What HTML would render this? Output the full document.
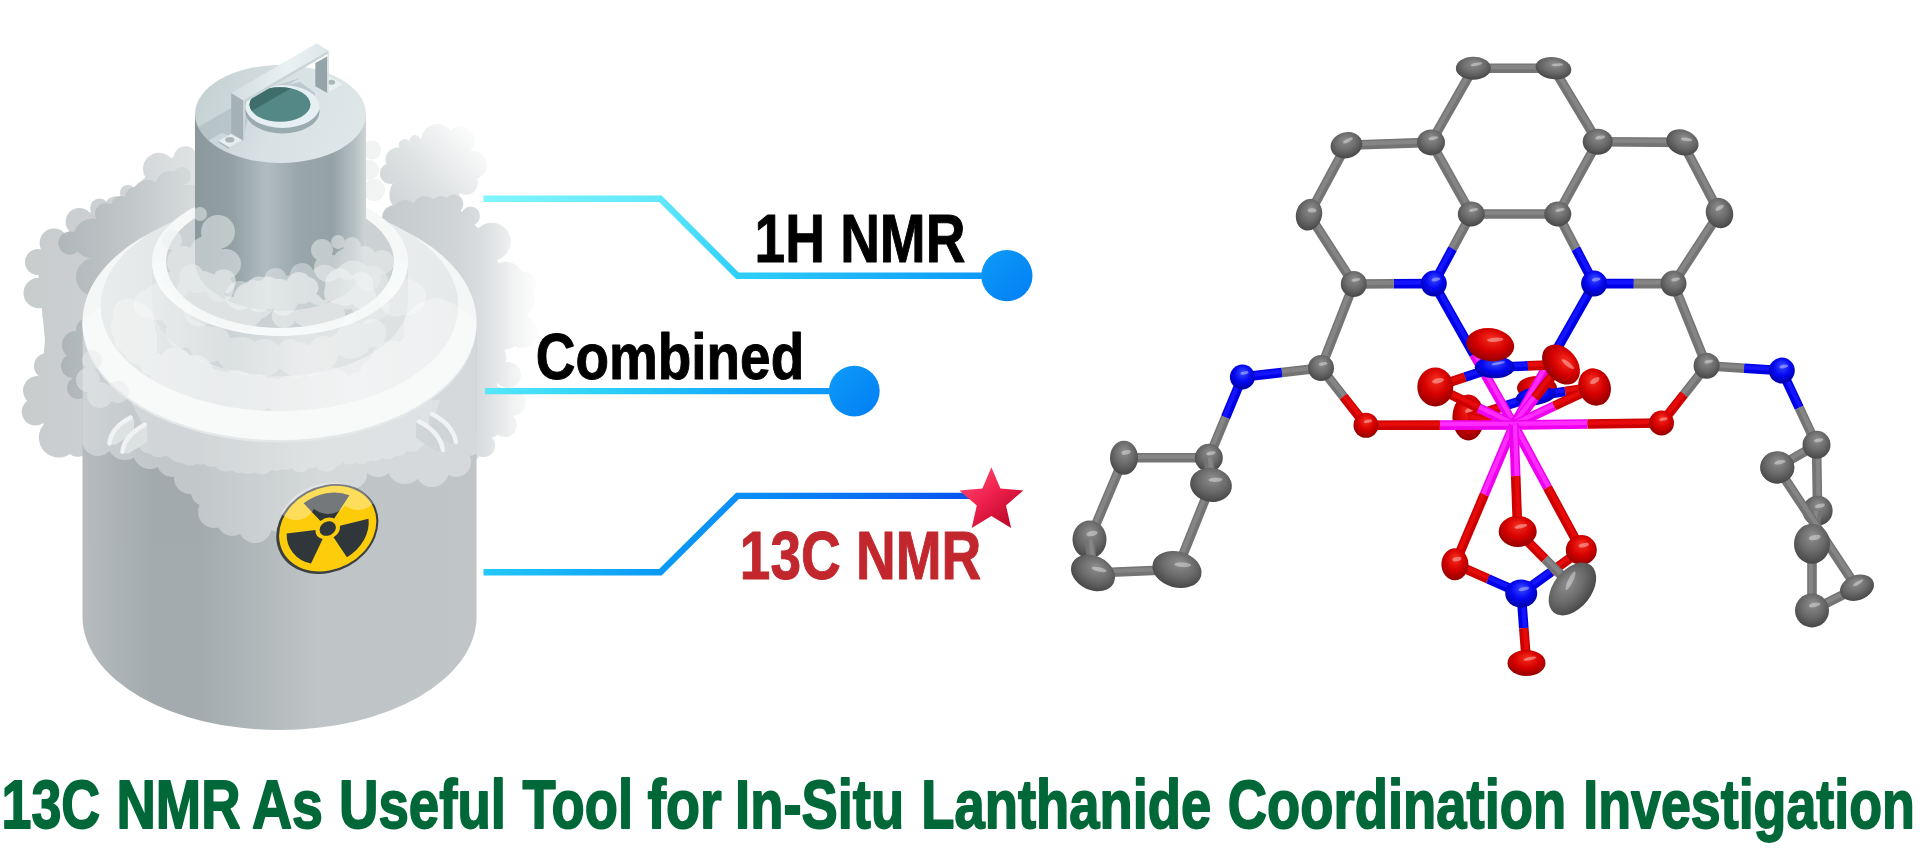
<!DOCTYPE html>
<html lang="en"><head><meta charset="utf-8"><title>13C NMR As Useful Tool for In-Situ Lanthanide Coordination Investigation</title>
<style>html,body{margin:0;padding:0;background:#fff;overflow:hidden}svg{display:block}</style></head>
<body><svg width="1920" height="850" viewBox="0 0 1920 850">
<defs>
<linearGradient id="gBody" x1="82" x2="476" y1="0" y2="0" gradientUnits="userSpaceOnUse">
 <stop offset="0" stop-color="#b6bcbf"/><stop offset="0.08" stop-color="#adb4b7"/><stop offset="0.18" stop-color="#a3abae"/>
 <stop offset="0.3" stop-color="#a3abae"/><stop offset="0.45" stop-color="#b1b8ba"/><stop offset="0.6" stop-color="#bfc5c7"/><stop offset="1" stop-color="#c0c6c8"/>
</linearGradient>
<linearGradient id="gTop" x1="195" x2="366" y1="0" y2="0" gradientUnits="userSpaceOnUse">
 <stop offset="0" stop-color="#8b999d"/><stop offset="0.22" stop-color="#93a1a5"/><stop offset="0.42" stop-color="#b1bcbf"/>
 <stop offset="0.6" stop-color="#99a7ab"/><stop offset="0.8" stop-color="#94a2a6"/><stop offset="0.93" stop-color="#b5bfc2"/><stop offset="1" stop-color="#cfd5d7"/>
</linearGradient>
<linearGradient id="gLid" x1="195" x2="366" y1="80" y2="150" gradientUnits="userSpaceOnUse">
 <stop offset="0" stop-color="#c3cfd2"/><stop offset="0.5" stop-color="#d8e1e3"/><stop offset="1" stop-color="#dfe7e9"/>
</linearGradient>
<linearGradient id="gMid" x1="152" x2="408" y1="0" y2="0" gradientUnits="userSpaceOnUse">
 <stop offset="0" stop-color="#dfe3e4"/><stop offset="0.3" stop-color="#cdd3d5"/><stop offset="0.6" stop-color="#e2e5e6"/><stop offset="1" stop-color="#dde1e2"/>
</linearGradient>
<linearGradient id="gFlat" x1="100" x2="460" y1="0" y2="0" gradientUnits="userSpaceOnUse">
 <stop offset="0" stop-color="#e9ecec"/><stop offset="0.35" stop-color="#dfe3e4"/><stop offset="0.7" stop-color="#eceeef"/><stop offset="1" stop-color="#e6e9ea"/>
</linearGradient>
<linearGradient id="gCloudL" x1="20" x2="250" y1="0" y2="0" gradientUnits="userSpaceOnUse">
 <stop offset="0" stop-color="#c8cccd"/><stop offset="0.35" stop-color="#ccd0d2"/><stop offset="0.7" stop-color="#dde0e1"/><stop offset="1" stop-color="#eceeee"/>
</linearGradient>
<linearGradient id="gCloudL2" x1="55" x2="210" y1="0" y2="0" gradientUnits="userSpaceOnUse">
 <stop offset="0" stop-color="#a9b1b4"/><stop offset="0.5" stop-color="#bfc5c7"/><stop offset="1" stop-color="#dadedf"/>
</linearGradient>
<linearGradient id="gCloudB" x1="388" x2="478" y1="212" y2="128" gradientUnits="userSpaceOnUse">
 <stop offset="0" stop-color="#cdd2d4"/><stop offset="0.45" stop-color="#e0e3e4"/><stop offset="1" stop-color="#ffffff"/>
</linearGradient>
<linearGradient id="gCloudC" x1="385" x2="548" y1="0" y2="0" gradientUnits="userSpaceOnUse">
 <stop offset="0" stop-color="#c5cacc"/><stop offset="0.45" stop-color="#d1d5d7"/><stop offset="0.6" stop-color="#dbdee0"/><stop offset="0.7" stop-color="#e6e8e9"/><stop offset="0.8" stop-color="#f2f3f3"/><stop offset="0.92" stop-color="#fcfcfc"/><stop offset="1" stop-color="#ffffff"/>
</linearGradient>
<linearGradient id="gHandleTop" x1="231" x2="328" y1="0" y2="0" gradientUnits="userSpaceOnUse">
 <stop offset="0" stop-color="#d3dee1"/><stop offset="0.6" stop-color="#e9f1f3"/><stop offset="1" stop-color="#dbe5e8"/>
</linearGradient>
<linearGradient id="gL1" x1="483" x2="1000" y1="0" y2="0" gradientUnits="userSpaceOnUse">
 <stop offset="0" stop-color="#80f5fd"/><stop offset="0.34" stop-color="#62e8fa"/><stop offset="0.49" stop-color="#2fcff8"/><stop offset="1" stop-color="#0a95f8"/>
</linearGradient>
<linearGradient id="gL2" x1="485" x2="850" y1="0" y2="0" gradientUnits="userSpaceOnUse">
 <stop offset="0" stop-color="#58e8fa"/><stop offset="0.3" stop-color="#2fd3f8"/><stop offset="0.7" stop-color="#14a8f7"/><stop offset="1" stop-color="#0a95f8"/>
</linearGradient>
<linearGradient id="gL3" x1="483" x2="985" y1="0" y2="0" gradientUnits="userSpaceOnUse">
 <stop offset="0" stop-color="#25c8f7"/><stop offset="0.35" stop-color="#0a9af6"/><stop offset="0.55" stop-color="#0a8cf6"/><stop offset="1" stop-color="#0a4ef0"/>
</linearGradient>
<linearGradient id="gDot" x1="0.15" x2="0.85" y1="0.15" y2="0.85">
 <stop offset="0" stop-color="#0b97f8"/><stop offset="1" stop-color="#0482f5"/>
</linearGradient>
<linearGradient id="gStar" x1="0.1" x2="0.8" y1="0.1" y2="0.9">
 <stop offset="0" stop-color="#ff4a72"/><stop offset="0.5" stop-color="#ee1f4c"/><stop offset="1" stop-color="#bf0a2a"/>
</linearGradient>
<radialGradient id="gC" cx="0.5" cy="0.42" r="0.66" fx="0.52" fy="0.3"><stop offset="0" stop-color="#8e8e8e"/><stop offset="0.5" stop-color="#6b6b6b"/><stop offset="1" stop-color="#3e3e3e"/></radialGradient><radialGradient id="gN" cx="0.5" cy="0.42" r="0.66" fx="0.52" fy="0.3"><stop offset="0" stop-color="#3a4cff"/><stop offset="0.5" stop-color="#0508f2"/><stop offset="1" stop-color="#000090"/></radialGradient><radialGradient id="gO" cx="0.5" cy="0.42" r="0.66" fx="0.52" fy="0.3"><stop offset="0" stop-color="#f83020"/><stop offset="0.5" stop-color="#d60000"/><stop offset="1" stop-color="#820000"/></radialGradient></defs>
<rect width="1920" height="850" fill="#ffffff"/>
<g id="tank"><g fill="url(#gCloudL)" opacity="1"><path d="M185.0,150.0 L245.0,180.0 L245.0,300.0 L110.0,450.0 L60.0,450.0 L38.0,415.0 L45.0,340.0 L38.0,270.0 L80.0,218.0 L128.0,192.0 L160.0,165.0Z"/><circle cx="185.4" cy="158.0" r="11.7"/><circle cx="159.0" cy="168.7" r="16.0"/><circle cx="128.0" cy="193.0" r="8.0"/><circle cx="116.5" cy="209.0" r="12.7"/><circle cx="99.6" cy="208.0" r="9.5"/><circle cx="79.4" cy="221.7" r="13.8"/><circle cx="54.0" cy="243.0" r="14.4"/><circle cx="38.0" cy="262.0" r="13.0"/><circle cx="38.8" cy="293.0" r="15.3"/><circle cx="56.5" cy="315.0" r="14.0"/><circle cx="60.0" cy="340.0" r="13.0"/><circle cx="47.0" cy="366.0" r="13.0"/><circle cx="37.6" cy="390.6" r="14.6"/><circle cx="35.3" cy="411.8" r="13.6"/><circle cx="58.8" cy="437.6" r="20.0"/><circle cx="77.6" cy="444.7" r="12.0"/><circle cx="95.0" cy="440.0" r="14.0"/></g><g fill="url(#gCloudL2)" opacity="0.8"><path d="M93.0,225.0 L148.0,185.0 L200.0,185.0 L200.0,300.0 L100.0,295.0Z"/><circle cx="93.0" cy="238.6" r="20.0"/><circle cx="70.0" cy="243.0" r="11.6"/><circle cx="148.0" cy="196.0" r="16.0"/><circle cx="95.0" cy="277.0" r="19.0"/><circle cx="131.0" cy="230.0" r="17.0"/><circle cx="114.0" cy="257.7" r="15.0"/><circle cx="170.0" cy="185.0" r="14.0"/><circle cx="160.0" cy="225.0" r="18.0"/><circle cx="125.0" cy="290.0" r="16.0"/><circle cx="106.0" cy="214.0" r="11.0"/><circle cx="121.0" cy="206.0" r="10.0"/><circle cx="135.0" cy="197.0" r="10.0"/><circle cx="182.0" cy="176.0" r="9.0"/></g><g fill="url(#gCloudL2)" opacity="0.9"><path d="M76.0,335.0 L100.0,335.0 L100.0,395.0 L78.0,395.0Z"/><circle cx="76.0" cy="345.0" r="14.0"/><circle cx="73.0" cy="366.0" r="12.0"/><circle cx="78.0" cy="388.0" r="11.0"/><circle cx="88.0" cy="330.0" r="12.0"/></g><g fill="#f1f3f3" opacity="0.9"><circle cx="371.8" cy="150.0" r="9.4"/><circle cx="369.0" cy="170.0" r="10.0"/><circle cx="374.0" cy="190.0" r="11.0"/></g><g fill="url(#gCloudB)" opacity="1"><circle cx="437.6" cy="140.6" r="16.5"/><circle cx="461.0" cy="140.6" r="14.0"/><circle cx="473.0" cy="165.0" r="14.0"/><circle cx="466.0" cy="183.0" r="11.8"/><circle cx="404.7" cy="145.0" r="6.0"/><circle cx="415.0" cy="140.6" r="5.5"/><circle cx="397.6" cy="159.4" r="12.0"/><circle cx="390.6" cy="173.5" r="10.6"/><circle cx="409.4" cy="194.7" r="20.0"/><circle cx="437.6" cy="192.4" r="13.0"/><circle cx="451.8" cy="193.5" r="8.0"/><circle cx="430.0" cy="165.0" r="28.0"/><circle cx="445.0" cy="170.0" r="24.0"/><circle cx="402.0" cy="172.0" r="11.0"/></g><g fill="url(#gCloudC)" opacity="1"><path d="M395.0,210.0 L455.0,205.0 L490.0,240.0 L505.0,280.0 L505.0,330.0 L495.0,400.0 L485.0,445.0 L440.0,455.0 L400.0,300.0Z"/><circle cx="454.0" cy="204.0" r="9.4"/><circle cx="470.6" cy="216.0" r="9.4"/><circle cx="491.8" cy="241.8" r="19.0"/><circle cx="482.4" cy="260.6" r="14.0"/><circle cx="506.0" cy="279.4" r="17.6"/><circle cx="524.7" cy="284.0" r="12.0"/><circle cx="421.0" cy="225.0" r="14.0"/><circle cx="433.0" cy="241.8" r="15.0"/><circle cx="395.0" cy="218.0" r="13.0"/><circle cx="504.0" cy="331.8" r="18.0"/><circle cx="499.0" cy="295.5" r="20.0"/><circle cx="491.0" cy="357.6" r="15.5"/><circle cx="494.0" cy="401.6" r="15.5"/><circle cx="488.7" cy="425.0" r="13.0"/><circle cx="483.5" cy="445.6" r="11.6"/><circle cx="515.0" cy="310.0" r="14.0"/><circle cx="508.0" cy="375.0" r="13.0"/><circle cx="470.0" cy="452.0" r="10.0"/><circle cx="522.0" cy="332.0" r="16.0"/><circle cx="520.0" cy="300.0" r="15.0"/><circle cx="512.0" cy="402.0" r="14.0"/><circle cx="505.0" cy="425.0" r="12.0"/><circle cx="405.0" cy="212.0" r="12.0"/><circle cx="425.0" cy="208.0" r="12.0"/><circle cx="441.0" cy="206.0" r="10.0"/></g><path d="M82.5,322 L82.5,617 A197,113 0 0 0 476.5,617 L476.5,322 Z" fill="url(#gBody)"/><clipPath id="cpBody"><path d="M82.5,322 L82.5,617 A197,113 0 0 0 476.5,617 L476.5,322 Z"/></clipPath><g clip-path="url(#cpBody)"><g fill="#ffffff" opacity="0.34"><path d="M82.5,322.0 L476.5,322.0 L476.5,445.0 L440.0,468.0 L380.0,460.0 L350.0,488.0 L300.0,495.0 L262.0,528.0 L225.0,518.0 L205.0,488.0 L160.0,458.0 L110.0,440.0 L82.5,440.0Z"/><circle cx="98.0" cy="440.0" r="16.0"/><circle cx="125.0" cy="442.0" r="18.0"/><circle cx="150.0" cy="452.0" r="17.0"/><circle cx="172.0" cy="462.0" r="15.0"/><circle cx="190.0" cy="478.0" r="16.0"/><circle cx="205.0" cy="492.0" r="14.0"/><circle cx="214.0" cy="512.0" r="16.0"/><circle cx="232.0" cy="521.0" r="15.0"/><circle cx="255.0" cy="526.0" r="17.0"/><circle cx="278.0" cy="517.0" r="15.0"/><circle cx="292.0" cy="502.0" r="14.0"/><circle cx="312.0" cy="498.0" r="16.0"/><circle cx="338.0" cy="492.0" r="16.0"/><circle cx="352.0" cy="474.0" r="15.0"/><circle cx="378.0" cy="460.0" r="17.0"/><circle cx="405.0" cy="466.0" r="18.0"/><circle cx="432.0" cy="470.0" r="17.0"/><circle cx="456.0" cy="462.0" r="15.0"/><circle cx="468.0" cy="442.0" r="14.0"/></g><g fill="#ffffff" opacity="0.26"><path d="M130.0,400.0 L440.0,400.0 L430.0,430.0 L400.0,445.0 L350.0,456.0 L300.0,462.0 L250.0,462.0 L200.0,455.0 L150.0,440.0Z"/><circle cx="150.3" cy="440.5" r="13.1"/><circle cx="159.1" cy="443.6" r="13.5"/><circle cx="171.6" cy="444.7" r="12.3"/><circle cx="180.5" cy="449.0" r="13.8"/><circle cx="190.1" cy="451.8" r="13.7"/><circle cx="200.5" cy="454.2" r="10.5"/><circle cx="212.5" cy="455.0" r="12.0"/><circle cx="225.9" cy="458.2" r="13.2"/><circle cx="239.2" cy="460.5" r="12.4"/><circle cx="248.5" cy="460.2" r="13.9"/><circle cx="261.6" cy="460.9" r="13.5"/><circle cx="276.0" cy="460.5" r="10.6"/><circle cx="286.5" cy="461.1" r="9.0"/><circle cx="300.1" cy="461.2" r="11.0"/><circle cx="311.2" cy="458.9" r="9.2"/><circle cx="326.5" cy="460.0" r="11.8"/><circle cx="336.0" cy="456.1" r="9.6"/><circle cx="349.3" cy="454.2" r="10.4"/><circle cx="361.3" cy="452.0" r="12.3"/><circle cx="374.8" cy="450.4" r="10.8"/><circle cx="387.7" cy="448.9" r="10.5"/><circle cx="398.3" cy="444.9" r="10.9"/><circle cx="411.1" cy="438.4" r="13.4"/><circle cx="418.1" cy="435.2" r="11.2"/></g></g><ellipse cx="279.5" cy="324.5" rx="197" ry="118" fill="#e4e8e9"/><ellipse cx="279.5" cy="322" rx="197" ry="118" fill="#f5f7f7"/><ellipse cx="279.5" cy="306" rx="179" ry="105.3" fill="url(#gFlat)"/><path d="M152,262 L152,302 A128,74 0 0 0 408,302 L408,262 Z" fill="url(#gMid)"/><ellipse cx="280" cy="262" rx="128" ry="74" fill="#f6f8f8"/><ellipse cx="280" cy="262" rx="114" ry="66" fill="#ccd2d4"/><path d="M195,114 L195,262 A85.5,49 0 0 0 366,262 L366,114 Z" fill="url(#gTop)"/><ellipse cx="280.5" cy="114" rx="85.5" ry="49" fill="url(#gLid)"/><clipPath id="cpLid"><ellipse cx="280.5" cy="114" rx="85.5" ry="49"/></clipPath><g clip-path="url(#cpLid)"><path d="M190,132 L262,90 L300,78 L250,108 L243,141 L222,133 L200,145 Z" fill="#9fb0b4" opacity="0.45"/><path d="M285,86 L315,101 L315,93 L300,82 Z" fill="#9fb0b4" opacity="0.5"/></g><ellipse cx="282.5" cy="111.5" rx="37" ry="22" fill="#9aabb0"/><ellipse cx="282.5" cy="106.5" rx="37" ry="21.5" fill="#e6eff1"/><ellipse cx="280" cy="104.5" rx="30.5" ry="17.2" fill="#548886"/><clipPath id="cpHole"><ellipse cx="280" cy="104.5" rx="30.5" ry="17.2"/></clipPath><path d="M245,115 L300,83 L290,80 L240,95 Z" fill="#3f6d6c" clip-path="url(#cpHole)"/><path d="M328,76 L343,84 L328,92.5 L318,86 Z" fill="#e9f0f2"/><ellipse cx="331.5" cy="82.3" rx="3.6" ry="2.5" fill="#a9b7bb"/><path d="M315.3,63 L327.3,56.2 L327.3,93 L315.3,86.3 Z" fill="#94a4a9"/><path d="M327.3,56 L328.8,51 L328.8,91.5 L327.3,93 Z" fill="#d6e0e3"/><path d="M218.5,141 L231,134 L241.8,140 L229,147.2 Z" fill="#e6eef0"/><path d="M218.5,141 L229,147.2 L229,149 L218.5,142.6 Z" fill="#aab8bc"/><ellipse cx="229.8" cy="139.8" rx="4.6" ry="2.8" fill="#a9b7bb"/><path d="M231.2,93.1 L243.2,100.2 L243.2,140.2 L231.2,133 Z" fill="#a4b2b6"/><path d="M243.2,100.2 L245.2,99 L245.2,139 L243.2,140.2 Z" fill="#cbd6d9"/><path d="M243.2,100.2 L328.3,50.5 L328.3,53.5 L245,102.5 Z" fill="#c9d4d7"/><path d="M231.2,93.1 L316.5,43.5 L328.3,50.5 L243.2,100.2 Z" fill="url(#gHandleTop)"/><g fill="#eef1f1" opacity="0.5"><circle cx="200.0" cy="214.0" r="7.0"/><circle cx="218.0" cy="232.0" r="17.0"/><circle cx="206.0" cy="252.0" r="16.0"/><circle cx="226.0" cy="264.0" r="15.0"/><circle cx="198.0" cy="276.0" r="17.0"/><circle cx="220.0" cy="288.0" r="14.0"/><circle cx="183.0" cy="262.0" r="16.0"/><circle cx="176.0" cy="284.0" r="14.0"/><circle cx="172.0" cy="240.0" r="10.0"/></g><g fill="#eef1f1" opacity="0.5"><circle cx="322.0" cy="250.0" r="11.0"/><circle cx="338.0" cy="242.0" r="7.0"/><circle cx="352.0" cy="246.0" r="9.0"/><circle cx="364.0" cy="258.0" r="12.0"/><circle cx="348.0" cy="264.0" r="16.0"/><circle cx="328.0" cy="268.0" r="14.0"/><circle cx="368.0" cy="278.0" r="13.0"/><circle cx="382.0" cy="262.0" r="12.0"/></g><g fill="#e9eded" opacity="0.62"><circle cx="308.4" cy="309.9" r="17.4"/><circle cx="369.1" cy="302.5" r="18.4"/><circle cx="195.5" cy="292.0" r="18.5"/><circle cx="313.3" cy="315.0" r="11.9"/><circle cx="279.1" cy="294.2" r="15.4"/><circle cx="299.0" cy="284.8" r="12.7"/><circle cx="243.1" cy="314.0" r="17.1"/><circle cx="220.3" cy="306.9" r="12.1"/><circle cx="307.3" cy="287.9" r="11.0"/><circle cx="355.6" cy="285.1" r="12.7"/><circle cx="376.7" cy="306.4" r="13.3"/><circle cx="372.7" cy="294.9" r="16.4"/><circle cx="228.9" cy="313.1" r="16.5"/><circle cx="373.6" cy="307.5" r="13.4"/><circle cx="258.6" cy="288.8" r="12.2"/><circle cx="202.4" cy="286.9" r="15.8"/><circle cx="190.6" cy="299.1" r="13.7"/><circle cx="248.9" cy="311.1" r="14.8"/><circle cx="250.0" cy="299.1" r="16.6"/><circle cx="200.8" cy="311.0" r="11.2"/><circle cx="332.5" cy="310.7" r="11.1"/><circle cx="339.7" cy="292.6" r="15.6"/><circle cx="191.7" cy="276.5" r="12.4"/><circle cx="371.5" cy="282.7" r="17.0"/><circle cx="366.6" cy="310.1" r="13.8"/><circle cx="257.4" cy="301.6" r="17.2"/><circle cx="210.5" cy="304.0" r="17.4"/><circle cx="353.3" cy="279.1" r="18.6"/><circle cx="207.3" cy="288.9" r="15.9"/><circle cx="364.4" cy="288.7" r="18.4"/><circle cx="293.6" cy="296.2" r="13.5"/><circle cx="223.7" cy="281.5" r="12.2"/><circle cx="320.9" cy="317.6" r="12.3"/><circle cx="199.2" cy="311.2" r="15.3"/><circle cx="267.1" cy="292.4" r="15.8"/><circle cx="347.0" cy="295.0" r="14.4"/><circle cx="200.6" cy="308.8" r="11.3"/><circle cx="283.8" cy="316.0" r="12.0"/><circle cx="329.0" cy="314.9" r="16.0"/><circle cx="339.7" cy="283.3" r="14.5"/></g><g fill="#ffffff" opacity="0.35"><circle cx="237.4" cy="295.6" r="10.8"/><circle cx="283.0" cy="301.9" r="14.1"/><circle cx="361.4" cy="284.0" r="11.9"/><circle cx="324.4" cy="286.5" r="10.7"/><circle cx="275.6" cy="279.3" r="11.3"/><circle cx="363.3" cy="297.0" r="12.8"/><circle cx="289.9" cy="284.6" r="9.5"/><circle cx="255.8" cy="294.9" r="14.2"/><circle cx="269.2" cy="295.6" r="13.6"/><circle cx="319.2" cy="291.6" r="13.6"/><circle cx="269.5" cy="293.5" r="10.7"/><circle cx="287.9" cy="295.9" r="13.1"/><circle cx="259.1" cy="299.3" r="12.9"/><circle cx="302.1" cy="275.4" r="12.3"/><circle cx="252.6" cy="291.8" r="11.8"/><circle cx="337.5" cy="290.2" r="13.8"/><circle cx="267.2" cy="291.9" r="13.4"/><circle cx="339.2" cy="282.4" r="14.1"/><circle cx="345.5" cy="290.9" r="14.9"/><circle cx="358.5" cy="285.8" r="12.2"/><circle cx="239.9" cy="295.5" r="14.6"/><circle cx="286.6" cy="293.9" r="13.3"/><circle cx="324.6" cy="278.5" r="13.7"/><circle cx="302.1" cy="292.4" r="11.5"/></g><path d="M152,262 A128,74 0 0 0 408,262 L394,262 A114,66 0 0 1 166,262 Z" fill="#f8fafa" opacity="0.8"/><g fill="#ffffff" opacity="0.3"><circle cx="234.2" cy="354.5" r="16.8"/><circle cx="395.8" cy="300.4" r="16.2"/><circle cx="373.8" cy="336.3" r="11.3"/><circle cx="289.7" cy="351.1" r="12.1"/><circle cx="339.2" cy="344.1" r="11.3"/><circle cx="292.2" cy="358.4" r="15.7"/><circle cx="372.2" cy="333.0" r="14.2"/><circle cx="353.4" cy="339.1" r="17.7"/><circle cx="320.7" cy="354.0" r="11.8"/><circle cx="264.2" cy="357.7" r="18.7"/><circle cx="181.8" cy="331.8" r="16.1"/><circle cx="323.0" cy="353.5" r="15.5"/><circle cx="147.5" cy="304.0" r="13.8"/><circle cx="176.4" cy="313.8" r="15.5"/><circle cx="241.9" cy="355.0" r="18.1"/><circle cx="323.2" cy="349.3" r="13.3"/><circle cx="159.3" cy="302.0" r="18.3"/><circle cx="247.4" cy="360.7" r="15.0"/><circle cx="309.1" cy="361.4" r="14.9"/><circle cx="352.0" cy="340.0" r="16.0"/><circle cx="299.5" cy="360.0" r="17.6"/><circle cx="405.2" cy="297.1" r="18.5"/><circle cx="193.2" cy="332.8" r="12.2"/><circle cx="160.1" cy="297.5" r="14.8"/><circle cx="228.3" cy="354.1" r="11.9"/><circle cx="197.7" cy="338.4" r="13.7"/><circle cx="349.5" cy="345.0" r="13.9"/><circle cx="197.4" cy="335.5" r="13.0"/><circle cx="297.1" cy="361.8" r="15.4"/><circle cx="410.7" cy="297.8" r="15.6"/><circle cx="207.6" cy="344.6" r="18.3"/><circle cx="319.7" cy="357.9" r="12.6"/><circle cx="353.4" cy="340.5" r="17.7"/><circle cx="214.3" cy="343.9" r="17.2"/></g><g fill="#ffffff" opacity="0.33"><circle cx="138.7" cy="329.9" r="16.3"/><circle cx="255.9" cy="396.7" r="15.0"/><circle cx="420.8" cy="349.2" r="19.3"/><circle cx="425.9" cy="324.7" r="19.4"/><circle cx="152.2" cy="363.5" r="12.2"/><circle cx="170.9" cy="382.1" r="21.0"/><circle cx="194.6" cy="374.4" r="19.6"/><circle cx="403.9" cy="365.9" r="20.6"/><circle cx="189.1" cy="373.6" r="14.6"/><circle cx="137.6" cy="328.0" r="17.5"/><circle cx="319.4" cy="389.4" r="17.6"/><circle cx="424.7" cy="317.7" r="15.4"/><circle cx="421.1" cy="325.0" r="17.2"/><circle cx="164.9" cy="376.8" r="13.2"/><circle cx="312.3" cy="392.9" r="17.4"/><circle cx="285.5" cy="404.7" r="15.4"/><circle cx="439.4" cy="322.6" r="13.4"/><circle cx="217.1" cy="390.2" r="20.2"/><circle cx="252.6" cy="398.4" r="14.4"/><circle cx="255.8" cy="392.8" r="18.8"/><circle cx="272.2" cy="392.0" r="14.1"/><circle cx="344.2" cy="393.9" r="13.6"/><circle cx="180.1" cy="379.9" r="12.8"/><circle cx="206.7" cy="379.8" r="13.1"/><circle cx="236.5" cy="390.0" r="19.9"/><circle cx="289.3" cy="394.9" r="19.2"/><circle cx="442.0" cy="314.8" r="12.5"/><circle cx="430.2" cy="351.2" r="18.1"/><circle cx="391.8" cy="361.3" r="20.8"/><circle cx="198.1" cy="390.2" r="13.3"/><circle cx="221.6" cy="388.8" r="14.1"/><circle cx="359.9" cy="387.1" r="15.1"/><circle cx="331.6" cy="386.7" r="19.5"/><circle cx="206.2" cy="392.4" r="15.9"/><circle cx="139.7" cy="347.4" r="17.3"/><circle cx="242.8" cy="399.1" r="15.6"/><circle cx="417.5" cy="331.4" r="13.8"/><circle cx="445.8" cy="318.1" r="16.3"/><circle cx="175.5" cy="363.4" r="16.2"/><circle cx="129.7" cy="337.8" r="15.9"/><circle cx="295.7" cy="391.1" r="13.4"/><circle cx="414.5" cy="349.1" r="15.5"/><circle cx="143.0" cy="337.7" r="14.3"/><circle cx="375.0" cy="372.2" r="14.6"/><circle cx="395.4" cy="367.7" r="12.3"/><circle cx="131.2" cy="327.1" r="20.4"/><circle cx="190.3" cy="384.6" r="16.2"/><circle cx="135.8" cy="320.7" r="18.0"/><circle cx="378.4" cy="381.0" r="18.6"/><circle cx="409.5" cy="348.8" r="12.2"/><circle cx="388.8" cy="362.5" r="15.6"/><circle cx="127.5" cy="313.4" r="14.8"/><circle cx="295.1" cy="394.0" r="18.6"/><circle cx="186.7" cy="373.1" r="14.2"/><circle cx="193.3" cy="390.7" r="17.8"/><circle cx="316.6" cy="403.0" r="12.1"/><circle cx="441.1" cy="324.3" r="15.7"/><circle cx="436.4" cy="319.0" r="20.9"/><circle cx="270.9" cy="395.4" r="12.8"/><circle cx="443.2" cy="327.8" r="16.4"/></g><path d="M82.5,322 A197,118 0 0 0 476.5,322 L458.5,306 A179,105.3 0 0 1 100.5,306 Z" fill="#f8f9f9" opacity="0.75"/><g fill="#e8ebec" opacity="0.5"><circle cx="88.0" cy="380.0" r="12.0"/><circle cx="100.0" cy="395.0" r="13.0"/><circle cx="118.0" cy="392.0" r="11.0"/><circle cx="92.0" cy="360.0" r="10.0"/></g><path d="M130.6,417.6 L134,419 L134,433 L115,445 L109.4,443.5 Q111,428 130.6,417.6Z" fill="#dde1e3" opacity="0.95"/><path d="M144.7,424.7 L147,426 L147,442 L128,454 L122.4,451.8 Q124,436 144.7,424.7Z" fill="#dde1e3" opacity="0.95"/><path d="M130.6,417.6 Q111,428 109.4,443.5" fill="none" stroke="#f0f2f3" stroke-width="4.5" stroke-linecap="round"/><path d="M144.7,424.7 Q124,436 122.4,451.8" fill="none" stroke="#f0f2f3" stroke-width="4.5" stroke-linecap="round"/><path d="M432,414 L429,416 L429,431 L450,444 L456,442 Q453,425 432,414Z" fill="#cfd4d6" opacity="0.95"/><path d="M419,421.5 L416,423.5 L416,438 L437,452 L443,450 Q440,432 419,421.5Z" fill="#cfd4d6" opacity="0.95"/><path d="M432,414 Q453,425 456,442" fill="none" stroke="#f0f2f3" stroke-width="4.5" stroke-linecap="round"/><path d="M419,421.5 Q440,432 443,450" fill="none" stroke="#f0f2f3" stroke-width="4.5" stroke-linecap="round"/><g transform="matrix(41,-7.3,1.4,35.4,327.7,528.6)"><circle r="1.245" cx="-0.01" cy="0.01" fill="#3a3f41"/><circle r="1.185" fill="#fdcc0a"/><path d="M0.168,-0.249 L0.559,-0.829 A1.0,1.0 0 0 0 -0.559,-0.829 L-0.168,-0.249 A0.3,0.3 0 0 1 0.168,-0.249Z" fill="#30373a"/><path d="M-0.299,-0.021 L-0.998,-0.070 A1.0,1.0 0 0 0 -0.438,0.899 L-0.132,0.270 A0.3,0.3 0 0 1 -0.299,-0.021Z" fill="#30373a"/><path d="M0.132,0.270 L0.438,0.899 A1.0,1.0 0 0 0 0.998,-0.070 L0.299,-0.021 A0.3,0.3 0 0 1 0.132,0.270Z" fill="#30373a"/><circle r="0.2" fill="#30373a"/></g><clipPath id="cpRad"><ellipse cx="327.7" cy="528.6" rx="52" ry="45" transform="rotate(-20 327.7 528.6)"/></clipPath><g clip-path="url(#cpRad)" fill="#ffffff" opacity="0.33"><circle cx="296" cy="500" r="20"/><circle cx="328" cy="492" r="22"/><circle cx="358" cy="490" r="20"/><circle cx="345" cy="470" r="30"/></g></g>
<g id="labels"><path d="M483.5,198.7 L660.3,198.7 L737.4,275.7 L1000,275.7" fill="none" stroke="url(#gL1)" stroke-width="6.4" stroke-linejoin="miter"/><circle cx="1006.9" cy="275.7" r="25.6" fill="url(#gDot)"/><path d="M485,391.1 L850,391.1" fill="none" stroke="url(#gL2)" stroke-width="6.4"/><circle cx="854.3" cy="391.1" r="25.4" fill="url(#gDot)"/><path d="M483.5,572.3 L660.3,572.3 L737.4,495.9 L985,495.9" fill="none" stroke="url(#gL3)" stroke-width="6.4" stroke-linejoin="miter"/><polygon points="991.4,467.2 1000.4,488.4 1023.4,490.4 1006.0,505.5 1011.1,528.0 991.4,516.1 971.7,528.0 976.8,505.5 959.4,490.4 982.4,488.4" fill="url(#gStar)"/><g font-family="'Liberation Sans', Arial, sans-serif" font-weight="700"><text x="754.6" y="261.5" font-size="68" fill="#000000" stroke="#000000" stroke-width="1.0" stroke-linejoin="round" textLength="210.8" lengthAdjust="spacingAndGlyphs">1H NMR</text><text x="535.8" y="379.0" font-size="65.5" fill="#000000" stroke="#000000" stroke-width="1.0" stroke-linejoin="round" textLength="268.4" lengthAdjust="spacingAndGlyphs">Combined</text><text x="739.8" y="579.0" font-size="68" fill="#c1272d" stroke="#c1272d" stroke-width="1.0" stroke-linejoin="round" textLength="241.4" lengthAdjust="spacingAndGlyphs">13C NMR</text><text x="1.5" y="828.2" font-size="69" fill="#006838" stroke="#006838" stroke-width="1.8" stroke-linejoin="round" textLength="98.7" lengthAdjust="spacingAndGlyphs">13C</text><text x="116.5" y="828.2" font-size="69" fill="#006838" stroke="#006838" stroke-width="1.8" stroke-linejoin="round" textLength="124.0" lengthAdjust="spacingAndGlyphs">NMR</text><text x="252" y="828.2" font-size="69" fill="#006838" stroke="#006838" stroke-width="1.8" stroke-linejoin="round" textLength="71" lengthAdjust="spacingAndGlyphs">As</text><text x="339" y="828.2" font-size="69" fill="#006838" stroke="#006838" stroke-width="1.8" stroke-linejoin="round" textLength="167" lengthAdjust="spacingAndGlyphs">Useful</text><text x="522.5" y="828.2" font-size="69" fill="#006838" stroke="#006838" stroke-width="1.8" stroke-linejoin="round" textLength="110.5" lengthAdjust="spacingAndGlyphs">Tool</text><text x="647.5" y="828.2" font-size="69" fill="#006838" stroke="#006838" stroke-width="1.8" stroke-linejoin="round" textLength="74.2" lengthAdjust="spacingAndGlyphs">for</text><text x="735.1" y="828.2" font-size="69" fill="#006838" stroke="#006838" stroke-width="1.8" stroke-linejoin="round" textLength="169.0" lengthAdjust="spacingAndGlyphs">In-Situ</text><text x="921.3" y="828.2" font-size="69" fill="#006838" stroke="#006838" stroke-width="1.8" stroke-linejoin="round" textLength="290.0" lengthAdjust="spacingAndGlyphs">Lanthanide</text><text x="1227.8" y="828.2" font-size="69" fill="#006838" stroke="#006838" stroke-width="1.8" stroke-linejoin="round" textLength="338.5" lengthAdjust="spacingAndGlyphs">Coordination</text><text x="1583.3" y="828.2" font-size="69" fill="#006838" stroke="#006838" stroke-width="1.8" stroke-linejoin="round" textLength="331.5" lengthAdjust="spacingAndGlyphs">Investigation</text></g></g>
<g id="molecule"><g stroke-linecap="butt"><line x1="1473.4" y1="68.2" x2="1553.5" y2="68.2" stroke="#747474" stroke-width="9.6"/><line x1="1473.4" y1="67.0" x2="1553.5" y2="67.0" stroke="#858585" stroke-width="4.3"/><line x1="1473.4" y1="68.2" x2="1431.0" y2="142.4" stroke="#747474" stroke-width="9.6"/><line x1="1472.4" y1="67.6" x2="1430.0" y2="141.8" stroke="#858585" stroke-width="4.3"/><line x1="1553.5" y1="68.2" x2="1597.7" y2="141.7" stroke="#747474" stroke-width="9.6"/><line x1="1554.5" y1="67.6" x2="1598.7" y2="141.1" stroke="#858585" stroke-width="4.3"/><line x1="1431.0" y1="142.4" x2="1346.4" y2="145.2" stroke="#747474" stroke-width="9.6"/><line x1="1431.0" y1="141.2" x2="1346.4" y2="144.0" stroke="#858585" stroke-width="4.3"/><line x1="1597.7" y1="141.7" x2="1682.4" y2="142.4" stroke="#747474" stroke-width="9.6"/><line x1="1597.7" y1="140.5" x2="1682.4" y2="141.2" stroke="#858585" stroke-width="4.3"/><line x1="1346.4" y1="145.2" x2="1309.0" y2="214.7" stroke="#747474" stroke-width="9.6"/><line x1="1345.4" y1="144.7" x2="1308.0" y2="214.2" stroke="#858585" stroke-width="4.3"/><line x1="1682.4" y1="142.4" x2="1719.5" y2="213.0" stroke="#747474" stroke-width="9.6"/><line x1="1683.4" y1="141.9" x2="1720.5" y2="212.5" stroke="#858585" stroke-width="4.3"/><line x1="1431.0" y1="142.4" x2="1471.3" y2="214.0" stroke="#747474" stroke-width="9.6"/><line x1="1432.0" y1="141.8" x2="1472.3" y2="213.4" stroke="#858585" stroke-width="4.3"/><line x1="1597.7" y1="141.7" x2="1557.8" y2="214.0" stroke="#747474" stroke-width="9.6"/><line x1="1596.7" y1="141.1" x2="1556.8" y2="213.4" stroke="#858585" stroke-width="4.3"/><line x1="1471.3" y1="214.0" x2="1557.8" y2="214.0" stroke="#747474" stroke-width="9.6"/><line x1="1471.3" y1="212.8" x2="1557.8" y2="212.8" stroke="#858585" stroke-width="4.3"/><line x1="1471.3" y1="214.0" x2="1452.5" y2="248.8" stroke="#747474" stroke-width="9.6"/><line x1="1470.3" y1="213.5" x2="1451.5" y2="248.3" stroke="#858585" stroke-width="4.3"/><line x1="1452.5" y1="248.8" x2="1433.8" y2="283.6" stroke="#0000e6" stroke-width="9.6"/><line x1="1451.5" y1="248.3" x2="1432.8" y2="283.1" stroke="#1414ff" stroke-width="4.3"/><line x1="1557.8" y1="214.0" x2="1575.9" y2="248.8" stroke="#747474" stroke-width="9.6"/><line x1="1558.8" y1="213.5" x2="1577.0" y2="248.3" stroke="#858585" stroke-width="4.3"/><line x1="1575.9" y1="248.8" x2="1594.1" y2="283.6" stroke="#0000e6" stroke-width="9.6"/><line x1="1577.0" y1="248.3" x2="1595.1" y2="283.1" stroke="#1414ff" stroke-width="4.3"/><line x1="1433.8" y1="283.6" x2="1393.8" y2="283.8" stroke="#0000e6" stroke-width="9.6"/><line x1="1433.8" y1="282.4" x2="1393.8" y2="282.6" stroke="#1414ff" stroke-width="4.3"/><line x1="1393.8" y1="283.8" x2="1353.8" y2="284.0" stroke="#747474" stroke-width="9.6"/><line x1="1393.8" y1="282.6" x2="1353.8" y2="282.8" stroke="#858585" stroke-width="4.3"/><line x1="1594.1" y1="283.6" x2="1633.8" y2="283.6" stroke="#0000e6" stroke-width="9.6"/><line x1="1594.1" y1="282.4" x2="1633.8" y2="282.4" stroke="#1414ff" stroke-width="4.3"/><line x1="1633.8" y1="283.6" x2="1673.5" y2="283.6" stroke="#747474" stroke-width="9.6"/><line x1="1633.8" y1="282.4" x2="1673.5" y2="282.4" stroke="#858585" stroke-width="4.3"/><line x1="1309.0" y1="214.7" x2="1353.8" y2="284.0" stroke="#747474" stroke-width="9.6"/><line x1="1310.0" y1="214.1" x2="1354.8" y2="283.4" stroke="#858585" stroke-width="4.3"/><line x1="1719.5" y1="213.0" x2="1673.5" y2="283.6" stroke="#747474" stroke-width="9.6"/><line x1="1718.5" y1="212.4" x2="1672.5" y2="283.0" stroke="#858585" stroke-width="4.3"/><line x1="1353.8" y1="284.0" x2="1321.0" y2="368.0" stroke="#747474" stroke-width="9.6"/><line x1="1352.7" y1="283.6" x2="1319.9" y2="367.6" stroke="#858585" stroke-width="4.3"/><line x1="1673.5" y1="283.6" x2="1706.6" y2="365.8" stroke="#747474" stroke-width="9.6"/><line x1="1674.6" y1="283.2" x2="1707.7" y2="365.4" stroke="#858585" stroke-width="4.3"/><line x1="1321.0" y1="368.0" x2="1281.7" y2="372.5" stroke="#747474" stroke-width="9.6"/><line x1="1320.9" y1="366.9" x2="1281.6" y2="371.4" stroke="#858585" stroke-width="4.3"/><line x1="1281.7" y1="372.5" x2="1242.4" y2="377.0" stroke="#0000e6" stroke-width="9.6"/><line x1="1281.6" y1="371.4" x2="1242.3" y2="375.9" stroke="#1414ff" stroke-width="4.3"/><line x1="1321.0" y1="368.0" x2="1343.5" y2="396.6" stroke="#747474" stroke-width="9.6"/><line x1="1321.9" y1="367.3" x2="1344.4" y2="395.9" stroke="#858585" stroke-width="4.3"/><line x1="1343.5" y1="396.6" x2="1366.0" y2="425.3" stroke="#cc0000" stroke-width="9.6"/><line x1="1344.4" y1="395.9" x2="1366.9" y2="424.6" stroke="#e60a0a" stroke-width="4.3"/><line x1="1706.6" y1="365.8" x2="1744.2" y2="368.2" stroke="#747474" stroke-width="9.6"/><line x1="1706.7" y1="364.7" x2="1744.3" y2="367.1" stroke="#858585" stroke-width="4.3"/><line x1="1744.2" y1="368.2" x2="1781.8" y2="370.6" stroke="#0000e6" stroke-width="9.6"/><line x1="1744.3" y1="367.1" x2="1781.9" y2="369.5" stroke="#1414ff" stroke-width="4.3"/><line x1="1706.6" y1="365.8" x2="1684.0" y2="394.4" stroke="#747474" stroke-width="9.6"/><line x1="1705.7" y1="365.1" x2="1683.1" y2="393.7" stroke="#858585" stroke-width="4.3"/><line x1="1684.0" y1="394.4" x2="1661.5" y2="423.0" stroke="#cc0000" stroke-width="9.6"/><line x1="1683.1" y1="393.7" x2="1660.6" y2="422.3" stroke="#e60a0a" stroke-width="4.3"/><line x1="1242.4" y1="377.0" x2="1225.6" y2="417.4" stroke="#0000e6" stroke-width="9.6"/><line x1="1241.3" y1="376.6" x2="1224.5" y2="417.0" stroke="#1414ff" stroke-width="4.3"/><line x1="1225.6" y1="417.4" x2="1208.8" y2="457.8" stroke="#747474" stroke-width="9.6"/><line x1="1224.5" y1="417.0" x2="1207.7" y2="457.4" stroke="#858585" stroke-width="4.3"/><line x1="1208.8" y1="457.8" x2="1124.0" y2="457.8" stroke="#747474" stroke-width="9.6"/><line x1="1208.8" y1="456.6" x2="1124.0" y2="456.6" stroke="#858585" stroke-width="4.3"/><line x1="1124.0" y1="457.8" x2="1089.5" y2="539.5" stroke="#747474" stroke-width="9.6"/><line x1="1122.9" y1="457.4" x2="1088.4" y2="539.1" stroke="#858585" stroke-width="4.3"/><line x1="1781.8" y1="370.6" x2="1799.2" y2="407.7" stroke="#0000e6" stroke-width="9.6"/><line x1="1782.8" y1="370.1" x2="1800.2" y2="407.2" stroke="#1414ff" stroke-width="4.3"/><line x1="1799.2" y1="407.7" x2="1816.5" y2="444.8" stroke="#747474" stroke-width="9.6"/><line x1="1800.2" y1="407.2" x2="1817.5" y2="444.3" stroke="#858585" stroke-width="4.3"/><line x1="1816.5" y1="444.8" x2="1777.3" y2="467.4" stroke="#747474" stroke-width="9.6"/><line x1="1815.9" y1="443.8" x2="1776.7" y2="466.4" stroke="#858585" stroke-width="4.3"/><line x1="1816.5" y1="444.8" x2="1817.6" y2="510.7" stroke="#747474" stroke-width="9.6"/><line x1="1817.7" y1="444.8" x2="1818.8" y2="510.7" stroke="#858585" stroke-width="4.3"/><ellipse cx="1537" cy="388" rx="20" ry="12" fill="url(#gO)"/><ellipse cx="1541.4" cy="384.6" rx="6.8" ry="1.6" fill="#ffffff" opacity="0.38" transform="rotate(-12 1537 388)"/><ellipse cx="1468.4" cy="417.5" rx="16" ry="23" fill="url(#gO)"/><ellipse cx="1471.9" cy="411.1" rx="5.4" ry="3.0" fill="#ffffff" opacity="0.38" transform="rotate(-12 1468.4 417.5)"/><line x1="1535.9" y1="396.0" x2="1502.2" y2="406.8" stroke="#0000e6" stroke-width="9.6"/><line x1="1535.6" y1="394.9" x2="1501.8" y2="405.7" stroke="#1414ff" stroke-width="4.3"/><line x1="1502.2" y1="406.8" x2="1468.4" y2="417.5" stroke="#cc0000" stroke-width="9.6"/><line x1="1501.8" y1="405.7" x2="1468.1" y2="416.4" stroke="#e60a0a" stroke-width="4.3"/><line x1="1535.9" y1="396.0" x2="1565.2" y2="391.5" stroke="#0000e6" stroke-width="9.6"/><line x1="1535.7" y1="394.9" x2="1565.1" y2="390.4" stroke="#1414ff" stroke-width="4.3"/><line x1="1565.2" y1="391.5" x2="1594.6" y2="387.0" stroke="#cc0000" stroke-width="9.6"/><line x1="1565.1" y1="390.4" x2="1594.4" y2="385.9" stroke="#e60a0a" stroke-width="4.3"/><line x1="1535.9" y1="396.0" x2="1536.5" y2="392.0" stroke="#0000e6" stroke-width="9.6"/><line x1="1534.8" y1="395.8" x2="1535.3" y2="391.8" stroke="#1414ff" stroke-width="4.3"/><line x1="1536.5" y1="392.0" x2="1537.0" y2="388.0" stroke="#cc0000" stroke-width="9.6"/><line x1="1535.3" y1="391.8" x2="1535.9" y2="387.8" stroke="#e60a0a" stroke-width="4.3"/><ellipse cx="1535.9" cy="396" rx="20" ry="9" fill="url(#gN)" transform="rotate(-8 1535.9 396)"/><ellipse cx="1540.3" cy="393.5" rx="6.8" ry="1.2" fill="#ffffff" opacity="0.38" transform="rotate(-20 1535.9 396)"/><line x1="1513.8" y1="425.0" x2="1491.1" y2="421.2" stroke="#ee00ee" stroke-width="9.6"/><line x1="1514.0" y1="423.9" x2="1491.3" y2="420.1" stroke="#ff2cff" stroke-width="4.3"/><line x1="1491.1" y1="421.2" x2="1468.4" y2="417.5" stroke="#cc0000" stroke-width="9.6"/><line x1="1491.3" y1="420.1" x2="1468.6" y2="416.4" stroke="#e60a0a" stroke-width="4.3"/><line x1="1513.8" y1="425.0" x2="1473.8" y2="354.3" stroke="#ee00ee" stroke-width="9.6"/><line x1="1514.8" y1="424.4" x2="1474.8" y2="353.7" stroke="#ff2cff" stroke-width="4.3"/><line x1="1473.8" y1="354.3" x2="1433.8" y2="283.6" stroke="#0000e6" stroke-width="9.6"/><line x1="1474.8" y1="353.7" x2="1434.8" y2="283.0" stroke="#1414ff" stroke-width="4.3"/><line x1="1513.8" y1="425.0" x2="1553.9" y2="354.3" stroke="#ee00ee" stroke-width="9.6"/><line x1="1512.8" y1="424.4" x2="1552.9" y2="353.7" stroke="#ff2cff" stroke-width="4.3"/><line x1="1553.9" y1="354.3" x2="1594.1" y2="283.6" stroke="#0000e6" stroke-width="9.6"/><line x1="1552.9" y1="353.7" x2="1593.1" y2="283.0" stroke="#1414ff" stroke-width="4.3"/><line x1="1494.8" y1="367.2" x2="1465.0" y2="377.1" stroke="#0000e6" stroke-width="9.6"/><line x1="1494.4" y1="366.1" x2="1464.7" y2="376.0" stroke="#1414ff" stroke-width="4.3"/><line x1="1465.0" y1="377.1" x2="1435.3" y2="387.0" stroke="#cc0000" stroke-width="9.6"/><line x1="1464.7" y1="376.0" x2="1434.9" y2="385.9" stroke="#e60a0a" stroke-width="4.3"/><line x1="1494.8" y1="367.2" x2="1527.9" y2="365.9" stroke="#0000e6" stroke-width="9.6"/><line x1="1494.8" y1="366.0" x2="1527.9" y2="364.7" stroke="#1414ff" stroke-width="4.3"/><line x1="1527.9" y1="365.9" x2="1561.0" y2="364.5" stroke="#cc0000" stroke-width="9.6"/><line x1="1527.9" y1="364.7" x2="1561.0" y2="363.3" stroke="#e60a0a" stroke-width="4.3"/><ellipse cx="1494.8" cy="367.2" rx="20" ry="11" fill="url(#gN)"/><ellipse cx="1499.2" cy="364.1" rx="6.8" ry="1.4" fill="#ffffff" opacity="0.38" transform="rotate(-12 1494.8 367.2)"/><line x1="1513.8" y1="425.0" x2="1535.0" y2="397.8" stroke="#ee00ee" stroke-width="9.6"/><line x1="1512.9" y1="424.3" x2="1534.1" y2="397.1" stroke="#ff2cff" stroke-width="4.3"/><line x1="1535.0" y1="397.8" x2="1561.0" y2="364.5" stroke="#cc0000" stroke-width="9.6"/><line x1="1534.1" y1="397.1" x2="1560.1" y2="363.8" stroke="#e60a0a" stroke-width="4.3"/><ellipse cx="1561" cy="364.5" rx="22.5" ry="16" fill="url(#gO)" transform="rotate(50 1561 364.5)"/><ellipse cx="1566.0" cy="360.0" rx="7.7" ry="2.1" fill="#ffffff" opacity="0.38" transform="rotate(38 1561 364.5)"/><ellipse cx="1490.3" cy="344.7" rx="24" ry="16.5" fill="url(#gO)" transform="rotate(8 1490.3 344.7)"/><ellipse cx="1495.6" cy="340.1" rx="8.2" ry="2.1" fill="#ffffff" opacity="0.38" transform="rotate(-4 1490.3 344.7)"/><line x1="1513.8" y1="425.0" x2="1478.5" y2="407.9" stroke="#ee00ee" stroke-width="9.6"/><line x1="1514.3" y1="424.0" x2="1479.0" y2="406.9" stroke="#ff2cff" stroke-width="4.3"/><line x1="1478.5" y1="407.9" x2="1435.3" y2="387.0" stroke="#cc0000" stroke-width="9.6"/><line x1="1479.0" y1="406.9" x2="1435.8" y2="386.0" stroke="#e60a0a" stroke-width="4.3"/><ellipse cx="1435.3" cy="387" rx="18" ry="19.5" fill="url(#gO)"/><ellipse cx="1439.3" cy="381.5" rx="6.1" ry="2.5" fill="#ffffff" opacity="0.38" transform="rotate(-12 1435.3 387)"/><line x1="1513.8" y1="425.0" x2="1554.2" y2="406.0" stroke="#ee00ee" stroke-width="9.6"/><line x1="1513.3" y1="424.0" x2="1553.7" y2="405.0" stroke="#ff2cff" stroke-width="4.3"/><line x1="1554.2" y1="406.0" x2="1594.6" y2="387.0" stroke="#cc0000" stroke-width="9.6"/><line x1="1553.7" y1="405.0" x2="1594.1" y2="386.0" stroke="#e60a0a" stroke-width="4.3"/><ellipse cx="1594.6" cy="387" rx="16" ry="19" fill="url(#gO)" transform="rotate(-20 1594.6 387)"/><ellipse cx="1598.1" cy="381.7" rx="5.4" ry="2.5" fill="#ffffff" opacity="0.38" transform="rotate(-32 1594.6 387)"/><line x1="1513.8" y1="425.0" x2="1439.9" y2="425.1" stroke="#ee00ee" stroke-width="9.6"/><line x1="1513.8" y1="423.8" x2="1439.9" y2="424.0" stroke="#ff2cff" stroke-width="4.3"/><line x1="1439.9" y1="425.1" x2="1366.0" y2="425.3" stroke="#cc0000" stroke-width="9.6"/><line x1="1439.9" y1="424.0" x2="1366.0" y2="424.1" stroke="#e60a0a" stroke-width="4.3"/><line x1="1513.8" y1="425.0" x2="1587.7" y2="424.0" stroke="#ee00ee" stroke-width="9.6"/><line x1="1513.8" y1="423.8" x2="1587.6" y2="422.8" stroke="#ff2cff" stroke-width="4.3"/><line x1="1587.7" y1="424.0" x2="1661.5" y2="423.0" stroke="#cc0000" stroke-width="9.6"/><line x1="1587.6" y1="422.8" x2="1661.5" y2="421.8" stroke="#e60a0a" stroke-width="4.3"/><line x1="1513.8" y1="425.0" x2="1484.3" y2="494.6" stroke="#ee00ee" stroke-width="9.6"/><line x1="1512.7" y1="424.6" x2="1483.3" y2="494.2" stroke="#ff2cff" stroke-width="4.3"/><line x1="1484.3" y1="494.6" x2="1454.9" y2="564.2" stroke="#cc0000" stroke-width="9.6"/><line x1="1483.3" y1="494.2" x2="1453.8" y2="563.8" stroke="#e60a0a" stroke-width="4.3"/><line x1="1513.8" y1="425.0" x2="1547.5" y2="487.5" stroke="#ee00ee" stroke-width="9.6"/><line x1="1514.8" y1="424.5" x2="1548.6" y2="487.0" stroke="#ff2cff" stroke-width="4.3"/><line x1="1547.5" y1="487.5" x2="1581.3" y2="550.0" stroke="#cc0000" stroke-width="9.6"/><line x1="1548.6" y1="487.0" x2="1582.3" y2="549.5" stroke="#e60a0a" stroke-width="4.3"/><line x1="1513.8" y1="425.0" x2="1515.7" y2="476.1" stroke="#ee00ee" stroke-width="9.6"/><line x1="1515.0" y1="425.0" x2="1516.8" y2="476.0" stroke="#ff2cff" stroke-width="4.3"/><line x1="1515.7" y1="476.1" x2="1517.7" y2="531.4" stroke="#cc0000" stroke-width="9.6"/><line x1="1516.8" y1="476.0" x2="1518.9" y2="531.4" stroke="#e60a0a" stroke-width="4.3"/><line x1="1454.9" y1="564.2" x2="1488.1" y2="578.9" stroke="#cc0000" stroke-width="9.6"/><line x1="1455.4" y1="563.1" x2="1488.5" y2="577.8" stroke="#e60a0a" stroke-width="4.3"/><line x1="1488.1" y1="578.9" x2="1521.2" y2="593.5" stroke="#0000e6" stroke-width="9.6"/><line x1="1488.5" y1="577.8" x2="1521.7" y2="592.4" stroke="#1414ff" stroke-width="4.3"/><line x1="1521.2" y1="593.5" x2="1551.2" y2="571.8" stroke="#0000e6" stroke-width="9.6"/><line x1="1520.5" y1="592.6" x2="1550.6" y2="570.8" stroke="#1414ff" stroke-width="4.3"/><line x1="1551.2" y1="571.8" x2="1581.3" y2="550.0" stroke="#cc0000" stroke-width="9.6"/><line x1="1550.6" y1="570.8" x2="1580.6" y2="549.1" stroke="#e60a0a" stroke-width="4.3"/><line x1="1521.2" y1="593.5" x2="1523.8" y2="628.2" stroke="#0000e6" stroke-width="9.6"/><line x1="1522.3" y1="593.4" x2="1525.0" y2="628.2" stroke="#1414ff" stroke-width="4.3"/><line x1="1523.8" y1="628.2" x2="1526.5" y2="663.0" stroke="#cc0000" stroke-width="9.6"/><line x1="1525.0" y1="628.2" x2="1527.6" y2="662.9" stroke="#e60a0a" stroke-width="4.3"/><ellipse cx="1581.3" cy="550" rx="15.5" ry="15" fill="url(#gO)"/><ellipse cx="1584.7" cy="545.8" rx="5.3" ry="2.0" fill="#ffffff" opacity="0.38" transform="rotate(-12 1581.3 550)"/><line x1="1517.7" y1="531.4" x2="1544.9" y2="558.8" stroke="#cc0000" stroke-width="9.6"/><line x1="1518.5" y1="530.6" x2="1545.7" y2="557.9" stroke="#e60a0a" stroke-width="4.3"/><line x1="1544.9" y1="558.8" x2="1563.0" y2="577.0" stroke="#747474" stroke-width="9.6"/><line x1="1545.7" y1="557.9" x2="1563.8" y2="576.2" stroke="#858585" stroke-width="4.3"/><ellipse cx="1454.9" cy="564.2" rx="13.5" ry="16" fill="url(#gO)"/><ellipse cx="1457.9" cy="559.7" rx="4.6" ry="2.1" fill="#ffffff" opacity="0.38" transform="rotate(-12 1454.9 564.2)"/><ellipse cx="1517.7" cy="531.4" rx="19" ry="15.5" fill="url(#gO)"/><ellipse cx="1521.9" cy="527.1" rx="6.5" ry="2.0" fill="#ffffff" opacity="0.38" transform="rotate(-12 1517.7 531.4)"/><ellipse cx="1521.2" cy="593.5" rx="16" ry="14" fill="url(#gN)"/><ellipse cx="1524.7" cy="589.6" rx="5.4" ry="1.8" fill="#ffffff" opacity="0.38" transform="rotate(-12 1521.2 593.5)"/><ellipse cx="1572.4" cy="589" rx="30" ry="19" fill="url(#gC)" transform="rotate(-52 1572.4 589)"/><ellipse cx="1579.0" cy="583.7" rx="10.2" ry="2.5" fill="#ffffff" opacity="0.38" transform="rotate(-64 1572.4 589)"/><ellipse cx="1526.5" cy="663" rx="19" ry="13" fill="url(#gO)"/><ellipse cx="1530.7" cy="659.4" rx="6.5" ry="1.7" fill="#ffffff" opacity="0.38" transform="rotate(-12 1526.5 663)"/><ellipse cx="1473.4" cy="68.2" rx="17.5" ry="11.5" fill="url(#gC)"/><ellipse cx="1477.2" cy="65.0" rx="6.0" ry="1.5" fill="#ffffff" opacity="0.38" transform="rotate(-12 1473.4 68.2)"/><ellipse cx="1553.5" cy="68.2" rx="18" ry="11" fill="url(#gC)" transform="rotate(8 1553.5 68.2)"/><ellipse cx="1557.5" cy="65.1" rx="6.1" ry="1.4" fill="#ffffff" opacity="0.38" transform="rotate(-4 1553.5 68.2)"/><ellipse cx="1431" cy="142.4" rx="14" ry="13" fill="url(#gC)"/><ellipse cx="1434.1" cy="138.8" rx="4.8" ry="1.7" fill="#ffffff" opacity="0.38" transform="rotate(-12 1431 142.4)"/><ellipse cx="1597.7" cy="141.7" rx="15" ry="13" fill="url(#gC)"/><ellipse cx="1601.0" cy="138.1" rx="5.1" ry="1.7" fill="#ffffff" opacity="0.38" transform="rotate(-12 1597.7 141.7)"/><ellipse cx="1346.4" cy="145.2" rx="16" ry="13" fill="url(#gC)" transform="rotate(-15 1346.4 145.2)"/><ellipse cx="1349.9" cy="141.6" rx="5.4" ry="1.7" fill="#ffffff" opacity="0.38" transform="rotate(-27 1346.4 145.2)"/><ellipse cx="1682.4" cy="142.4" rx="16.5" ry="12.5" fill="url(#gC)" transform="rotate(20 1682.4 142.4)"/><ellipse cx="1686.0" cy="138.9" rx="5.6" ry="1.6" fill="#ffffff" opacity="0.38" transform="rotate(8 1682.4 142.4)"/><ellipse cx="1309" cy="214.7" rx="13" ry="16" fill="url(#gC)" transform="rotate(15 1309 214.7)"/><ellipse cx="1311.9" cy="210.2" rx="4.4" ry="2.1" fill="#ffffff" opacity="0.38" transform="rotate(3 1309 214.7)"/><ellipse cx="1719.5" cy="213" rx="13.5" ry="15.5" fill="url(#gC)" transform="rotate(-20 1719.5 213)"/><ellipse cx="1722.5" cy="208.7" rx="4.6" ry="2.0" fill="#ffffff" opacity="0.38" transform="rotate(-32 1719.5 213)"/><ellipse cx="1471.3" cy="214" rx="13.5" ry="12.5" fill="url(#gC)"/><ellipse cx="1474.3" cy="210.5" rx="4.6" ry="1.6" fill="#ffffff" opacity="0.38" transform="rotate(-12 1471.3 214)"/><ellipse cx="1557.8" cy="214" rx="13.5" ry="12.5" fill="url(#gC)"/><ellipse cx="1560.8" cy="210.5" rx="4.6" ry="1.6" fill="#ffffff" opacity="0.38" transform="rotate(-12 1557.8 214)"/><ellipse cx="1433.8" cy="283.6" rx="13" ry="13" fill="url(#gN)"/><ellipse cx="1436.7" cy="280.0" rx="4.4" ry="1.7" fill="#ffffff" opacity="0.38" transform="rotate(-12 1433.8 283.6)"/><ellipse cx="1594.1" cy="283.6" rx="13" ry="13" fill="url(#gN)"/><ellipse cx="1597.0" cy="280.0" rx="4.4" ry="1.7" fill="#ffffff" opacity="0.38" transform="rotate(-12 1594.1 283.6)"/><ellipse cx="1353.8" cy="284" rx="13" ry="13" fill="url(#gC)"/><ellipse cx="1356.7" cy="280.4" rx="4.4" ry="1.7" fill="#ffffff" opacity="0.38" transform="rotate(-12 1353.8 284)"/><ellipse cx="1673.5" cy="283.6" rx="13" ry="13" fill="url(#gC)"/><ellipse cx="1676.4" cy="280.0" rx="4.4" ry="1.7" fill="#ffffff" opacity="0.38" transform="rotate(-12 1673.5 283.6)"/><ellipse cx="1321" cy="368" rx="13" ry="13" fill="url(#gC)"/><ellipse cx="1323.9" cy="364.4" rx="4.4" ry="1.7" fill="#ffffff" opacity="0.38" transform="rotate(-12 1321 368)"/><ellipse cx="1242.4" cy="377" rx="12.5" ry="12.5" fill="url(#gN)"/><ellipse cx="1245.2" cy="373.5" rx="4.2" ry="1.6" fill="#ffffff" opacity="0.38" transform="rotate(-12 1242.4 377)"/><ellipse cx="1366" cy="425.3" rx="12.5" ry="12.5" fill="url(#gO)"/><ellipse cx="1368.8" cy="421.8" rx="4.2" ry="1.6" fill="#ffffff" opacity="0.38" transform="rotate(-12 1366 425.3)"/><ellipse cx="1706.6" cy="365.8" rx="13" ry="13" fill="url(#gC)"/><ellipse cx="1709.5" cy="362.2" rx="4.4" ry="1.7" fill="#ffffff" opacity="0.38" transform="rotate(-12 1706.6 365.8)"/><ellipse cx="1781.8" cy="370.6" rx="13" ry="13" fill="url(#gN)"/><ellipse cx="1784.7" cy="367.0" rx="4.4" ry="1.7" fill="#ffffff" opacity="0.38" transform="rotate(-12 1781.8 370.6)"/><ellipse cx="1661.5" cy="423" rx="12.5" ry="12.5" fill="url(#gO)"/><ellipse cx="1664.2" cy="419.5" rx="4.2" ry="1.6" fill="#ffffff" opacity="0.38" transform="rotate(-12 1661.5 423)"/><ellipse cx="1124" cy="457.8" rx="14" ry="17" fill="url(#gC)"/><ellipse cx="1127.1" cy="453.0" rx="4.8" ry="2.2" fill="#ffffff" opacity="0.38" transform="rotate(-12 1124 457.8)"/><ellipse cx="1089.5" cy="539.5" rx="17" ry="19" fill="url(#gC)"/><ellipse cx="1093.2" cy="534.2" rx="5.8" ry="2.5" fill="#ffffff" opacity="0.38" transform="rotate(-12 1089.5 539.5)"/><ellipse cx="1208.8" cy="457.8" rx="14" ry="14" fill="url(#gC)"/><ellipse cx="1211.9" cy="453.9" rx="4.8" ry="1.8" fill="#ffffff" opacity="0.38" transform="rotate(-12 1208.8 457.8)"/><ellipse cx="1816.5" cy="444.8" rx="14" ry="14" fill="url(#gC)"/><ellipse cx="1819.6" cy="440.9" rx="4.8" ry="1.8" fill="#ffffff" opacity="0.38" transform="rotate(-12 1816.5 444.8)"/><ellipse cx="1777.3" cy="467.4" rx="17" ry="16" fill="url(#gC)"/><ellipse cx="1781.0" cy="462.9" rx="5.8" ry="2.1" fill="#ffffff" opacity="0.38" transform="rotate(-12 1777.3 467.4)"/><ellipse cx="1817.6" cy="510.7" rx="15" ry="15" fill="url(#gC)"/><ellipse cx="1820.9" cy="506.5" rx="5.1" ry="2.0" fill="#ffffff" opacity="0.38" transform="rotate(-12 1817.6 510.7)"/><line x1="1208.8" y1="457.8" x2="1211.0" y2="484.8" stroke="#747474" stroke-width="9.6"/><line x1="1209.9" y1="457.7" x2="1212.1" y2="484.7" stroke="#858585" stroke-width="4.3"/><line x1="1089.5" y1="539.5" x2="1093.0" y2="573.0" stroke="#747474" stroke-width="9.6"/><line x1="1090.6" y1="539.4" x2="1094.1" y2="572.9" stroke="#858585" stroke-width="4.3"/><line x1="1817.6" y1="510.7" x2="1812.0" y2="543.8" stroke="#747474" stroke-width="9.6"/><line x1="1816.5" y1="510.5" x2="1810.9" y2="543.6" stroke="#858585" stroke-width="4.3"/><line x1="1777.3" y1="467.4" x2="1857.0" y2="587.8" stroke="#747474" stroke-width="9.6"/><line x1="1778.3" y1="466.8" x2="1858.0" y2="587.2" stroke="#858585" stroke-width="4.3"/><ellipse cx="1777.3" cy="467.4" rx="17" ry="16" fill="url(#gC)"/><ellipse cx="1781.0" cy="462.9" rx="5.8" ry="2.1" fill="#ffffff" opacity="0.38" transform="rotate(-12 1777.3 467.4)"/><line x1="1211.0" y1="484.8" x2="1177.0" y2="569.5" stroke="#747474" stroke-width="9.6"/><line x1="1209.9" y1="484.4" x2="1175.9" y2="569.1" stroke="#858585" stroke-width="4.3"/><line x1="1177.0" y1="569.5" x2="1093.0" y2="573.0" stroke="#747474" stroke-width="9.6"/><line x1="1177.0" y1="568.3" x2="1093.0" y2="571.8" stroke="#858585" stroke-width="4.3"/><ellipse cx="1211" cy="484.8" rx="21" ry="17" fill="url(#gC)" transform="rotate(10 1211 484.8)"/><ellipse cx="1215.6" cy="480.0" rx="7.1" ry="2.2" fill="#ffffff" opacity="0.38" transform="rotate(-2 1211 484.8)"/><ellipse cx="1093" cy="573" rx="23" ry="17" fill="url(#gC)" transform="rotate(25 1093 573)"/><ellipse cx="1098.1" cy="568.2" rx="7.8" ry="2.2" fill="#ffffff" opacity="0.38" transform="rotate(13 1093 573)"/><ellipse cx="1177" cy="569.5" rx="25" ry="18" fill="url(#gC)" transform="rotate(15 1177 569.5)"/><ellipse cx="1182.5" cy="564.5" rx="8.5" ry="2.3" fill="#ffffff" opacity="0.38" transform="rotate(3 1177 569.5)"/><line x1="1812.0" y1="543.8" x2="1812.0" y2="610.4" stroke="#747474" stroke-width="9.6"/><line x1="1810.8" y1="543.8" x2="1810.8" y2="610.4" stroke="#858585" stroke-width="4.3"/><line x1="1812.0" y1="610.4" x2="1857.0" y2="587.8" stroke="#747474" stroke-width="9.6"/><line x1="1811.5" y1="609.4" x2="1856.5" y2="586.8" stroke="#858585" stroke-width="4.3"/><ellipse cx="1812" cy="543.8" rx="18" ry="20" fill="url(#gC)"/><ellipse cx="1816.0" cy="538.2" rx="6.1" ry="2.6" fill="#ffffff" opacity="0.38" transform="rotate(-12 1812 543.8)"/><ellipse cx="1857" cy="587.8" rx="17.5" ry="12.5" fill="url(#gC)" transform="rotate(-20 1857 587.8)"/><ellipse cx="1860.8" cy="584.3" rx="6.0" ry="1.6" fill="#ffffff" opacity="0.38" transform="rotate(-32 1857 587.8)"/><ellipse cx="1812" cy="610.4" rx="17" ry="17" fill="url(#gC)"/><ellipse cx="1815.7" cy="605.6" rx="5.8" ry="2.2" fill="#ffffff" opacity="0.38" transform="rotate(-12 1812 610.4)"/></g></g>
</svg></body></html>
